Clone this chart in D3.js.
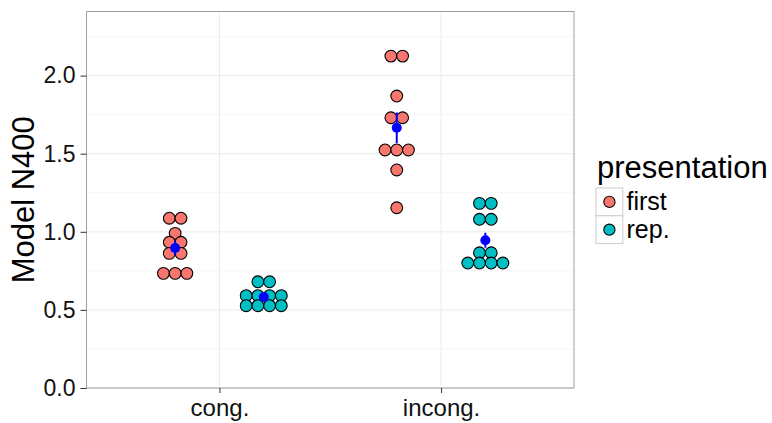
<!DOCTYPE html>
<html><head><meta charset="utf-8">
<script src="https://cdn.jsdelivr.net/npm/d3@7"></script>
<style>body{margin:0;background:#fff}svg{display:block;font-family:"Liberation Sans",Arial,sans-serif}</style>
</head><body><svg id="c" width="772" height="423"></svg>
<script>
const categories = ["cong.", "incong."];
const presentations = ["first", "rep."];
const colors = ["#F8766D", "#00BFC4"];
// individual values (each dot), stacked horizontally when equal
const congFirst   = [1.087,1.087,0.99,0.933,0.933,0.862,0.862,0.734,0.734,0.734];
const congRep     = [0.68,0.68,0.591,0.591,0.591,0.591,0.527,0.527,0.527,0.527];
const incongFirst = [2.125,2.125,1.869,1.73,1.73,1.524,1.524,1.524,1.396,1.154];
const incongRep   = [1.182,1.182,1.08,1.08,0.866,0.866,0.800,0.800,0.800,0.800];
const means = [0.896, 0.583, 1.666, 0.946];
const ses   = [0.045, 0.02, 0.098, 0.048];
const yTicks = [0, 0.5, 1.0, 1.5, 2.0];

const groups = [
  {cat:0, pres:0, vals:congFirst},
  {cat:0, pres:1, vals:congRep},
  {cat:1, pres:0, vals:incongFirst},
  {cat:1, pres:1, vals:incongRep}
];

const svg = d3.select("#c");
const L=86.5, R=574, T=11.5, B=388;
const y = d3.scaleLinear().domain([0, 2.4]).range([B, B-2.4*156.2]);
const x = d3.scalePoint().domain(categories).range([L,R]).padding(0.6);
const dodge = 44.3;

// panel
const g = svg.append("g");
g.append("rect").attr("x",L).attr("y",T).attr("width",R-L).attr("height",B-T).attr("fill","#fff");
const minor = [0.25,0.75,1.25,1.75,2.25];
g.selectAll(".mi").data(minor).enter().append("line")
  .attr("x1",L).attr("x2",R).attr("y1",d=>y(d)).attr("y2",d=>y(d))
  .attr("stroke","#f4f4f4").attr("stroke-width",0.8);
g.selectAll(".ma").data(yTicks).enter().append("line")
  .attr("x1",L).attr("x2",R).attr("y1",d=>y(d)).attr("y2",d=>y(d))
  .attr("stroke","#ebebeb").attr("stroke-width",1);
g.selectAll(".mx").data(categories).enter().append("line")
  .attr("x1",d=>x(d)).attr("x2",d=>x(d)).attr("y1",T).attr("y2",B)
  .attr("stroke","#ebebeb").attr("stroke-width",1);

// dots
const r = 5.9, step = 11.7;
groups.forEach(gr=>{
  const cx = x(categories[gr.cat]) + (gr.pres===0?-dodge:dodge);
  const rows = d3.groups(gr.vals, v=>v);
  rows.forEach(([v, arr])=>{
    const n = arr.length;
    arr.forEach((_,i)=>{
      g.append("circle").attr("cx", cx + (i-(n-1)/2)*step).attr("cy", y(v)).attr("r", r)
        .attr("fill", colors[gr.pres]).attr("stroke","#000").attr("stroke-width",1.1);
    });
  });
});
// means + error bars
groups.forEach((gr,k)=>{
  const cx = x(categories[gr.cat]) + (gr.pres===0?-dodge:dodge);
  g.append("line").attr("x1",cx).attr("x2",cx).attr("y1",y(means[k]-ses[k])).attr("y2",y(means[k]+ses[k]))
    .attr("stroke","#0000ff").attr("stroke-width",2);
  g.append("circle").attr("cx",cx).attr("cy",y(means[k])).attr("r",5).attr("fill","#0000ff");
});

// border
g.append("rect").attr("x",L).attr("y",T).attr("width",R-L).attr("height",B-T).attr("fill","none").attr("stroke","#a0a0a0").attr("stroke-width",1);

// axes
const ya = svg.append("g").attr("transform",`translate(${L},0)`)
  .call(d3.axisLeft(y).tickValues(yTicks).tickFormat(d3.format(".1f")).tickSize(6).tickPadding(5));
ya.select(".domain").remove();
ya.selectAll("line").attr("stroke","#333");
ya.selectAll("text").attr("font-size",23).attr("fill","#111").attr("font-family","Liberation Sans, Arial, sans-serif");
const xa = svg.append("g").attr("transform",`translate(0,${B})`)
  .call(d3.axisBottom(x).tickSize(5).tickPadding(6));
xa.select(".domain").remove();
xa.selectAll("line").attr("stroke","#333");
xa.selectAll("text").attr("font-size",24).attr("fill","#111").attr("font-family","Liberation Sans, Arial, sans-serif");

svg.append("text").attr("transform",`translate(34,${(T+B)/2}) rotate(-90)`).attr("text-anchor","middle")
  .attr("font-size",31).attr("fill","#000").text("Model N400");

// legend
const lg = svg.append("g");
lg.append("text").attr("x",597).attr("y",178).attr("font-size",31).attr("fill","#000").text("presentation");
presentations.forEach((p,i)=>{
  const ky = 188 + i*27.8;
  lg.append("rect").attr("x",596).attr("y",ky).attr("width",26.8).attr("height",27.8)
    .attr("fill","#fff").attr("stroke","#cccccc").attr("stroke-width",1);
  lg.append("circle").attr("cx",609.4).attr("cy",ky+13.9).attr("r",5.6)
    .attr("fill",colors[i]).attr("stroke","#000").attr("stroke-width",1.1);
  lg.append("text").attr("x",626.5).attr("y",ky+22).attr("font-size",25).attr("fill","#000").text(p);
});
</script></body></html>
